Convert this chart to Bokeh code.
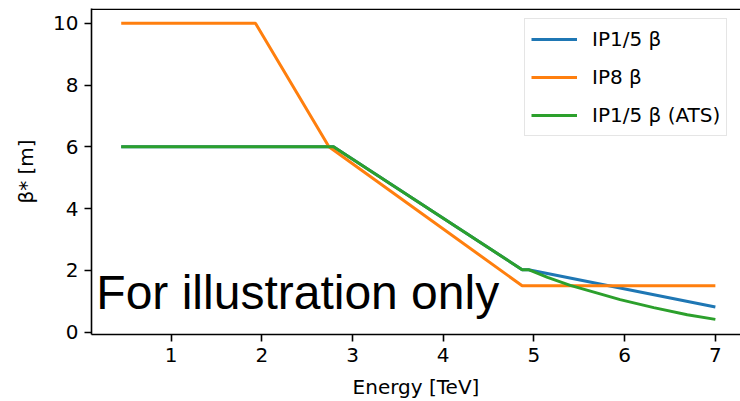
from bokeh.plotting import figure
from bokeh.models import Range1d, FixedTicker, Span, Legend, LegendItem, Label
from bokeh.embed import file_html
from bokeh.resources import INLINE

# Data
ip15_energy = [0.45, 2.79, 4.87, 4.94, 7.0]
ip15_beta = [6.0, 6.0, 2.02, 2.02, 0.81]

ip8_energy = [0.45, 1.93, 2.74, 4.87, 7.0]
ip8_beta = [10.0, 10.0, 6.0, 1.5, 1.5]

ats_energy = [0.45, 2.79, 4.87, 4.94, 5.15, 5.4, 5.7, 5.95, 6.32, 6.69, 7.0]
ats_beta = [6.0, 6.0, 2.02, 2.02, 1.77, 1.51, 1.26, 1.05, 0.79, 0.56, 0.41]

x_ticks = [1, 2, 3, 4, 5, 6, 7]
y_ticks = [0, 2, 4, 6, 8, 10]

labels = ["IP1/5 β", "IP8 β", "IP1/5 β (ATS)"]
colors = ["#1f77b4", "#ff7f0e", "#2ca02c"]

FONT = "DejaVu Sans"

p = figure(width=740, height=401, output_backend="svg", toolbar_location=None,
           x_range=Range1d(0.1225, 7.277), y_range=Range1d(-0.08, 10.48),
           min_border_left=91, min_border_right=0, min_border_top=8,
           min_border_bottom=67)
p.outline_line_color = None
p.grid.visible = False
p.background_fill_color = "white"
p.border_fill_color = "white"

r1 = p.line(ip15_energy, ip15_beta, line_color=colors[0], line_width=3)
r2 = p.line(ip8_energy, ip8_beta, line_color=colors[1], line_width=3)
r3 = p.line(ats_energy, ats_beta, line_color=colors[2], line_width=3)

for ax in (p.xaxis[0], p.yaxis[0]):
    ax.axis_line_color = "black"
    ax.axis_line_width = 1.6
    ax.major_tick_line_color = "black"
    ax.major_tick_line_width = 1.6
    ax.major_tick_out = 7
    ax.major_tick_in = 0
    ax.minor_tick_line_color = None
    ax.major_label_text_font = FONT
    ax.major_label_text_font_size = "20px"
    ax.major_label_text_color = "black"
    ax.axis_label_text_font = FONT
    ax.axis_label_text_font_size = "20px"
    ax.axis_label_text_font_style = "normal"
    ax.axis_label_text_color = "black"
    ax.major_label_standoff = 6

p.xaxis[0].ticker = FixedTicker(ticks=x_ticks)
p.yaxis[0].ticker = FixedTicker(ticks=y_ticks)
p.xaxis[0].axis_label = "Energy [TeV]"
p.yaxis[0].axis_label = "β* [m]"
p.xaxis[0].axis_label_standoff = 10
p.yaxis[0].axis_label_standoff = 12

top_spine = Span(location=10.455, dimension="width", line_color="black", line_width=1.6)
p.add_layout(top_spine)

legend = Legend(items=[LegendItem(label=labels[0], renderers=[r1]),
                       LegendItem(label=labels[1], renderers=[r2]),
                       LegendItem(label=labels[2], renderers=[r3])],
                location=(433, 198))
legend.label_text_font = FONT
legend.label_text_font_size = "20px"
legend.label_text_color = "black"
legend.glyph_width = 46
legend.glyph_height = 28
legend.spacing = 10
legend.padding = 6
legend.label_standoff = 15
legend.border_line_color = "#cccccc"
legend.border_line_width = 1.5
legend.background_fill_alpha = 0.8
legend.margin = 0
p.add_layout(legend)

note = Label(x=0.176, y=1.28, text="For illustration only", text_font="Liberation Sans",
             text_font_size="48px", text_color="black", text_baseline="alphabetic")
p.add_layout(note)

open("out.html", "w").write(file_html(p, INLINE))
